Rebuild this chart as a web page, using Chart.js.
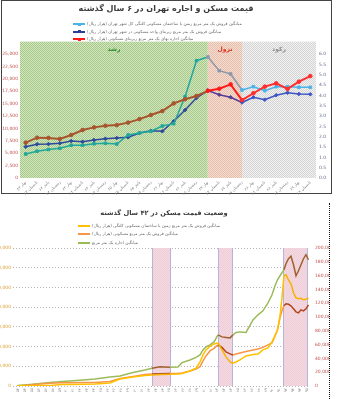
<!DOCTYPE html>
<html lang="fa">
<head>
<meta charset="utf-8">
<script src="https://cdn.jsdelivr.net/npm/chart.js@4.4.1/dist/chart.umd.min.js"></script>
<style>
  body { margin: 0; width: 342px; height: 399px; overflow: hidden; background: #fff; position: relative; font-family: 'DejaVu Sans', sans-serif; }
  canvas { position: absolute; }
  .frame { position: absolute; left: 1px; top: 0; width: 329px; height: 192px; border: 1px solid #444; }
  .edge { position: absolute; left: 329px; top: 203px; width: 0; height: 196px; border-left: 1px dotted #111; }
  .title { position: absolute; left: 0; width: 332px; text-align: center; font-weight: bold; color: #3a3a3a; direction: rtl; white-space: nowrap; }
  .leg { position: absolute; white-space: nowrap; font-size: 4.2px; line-height: 6px; color: #666; direction: rtl; }
  .sw { position: absolute; height: 2px; }
  .mk { position: absolute; width: 3px; height: 3px; }
</style>
</head>
<body>
<div class="frame"></div>
<canvas id="top" width="342" height="195" style="left:0;top:0"></canvas>
<div class="title" style="top:4px;font-size:8px">قیمت مسکن و اجاره تهران در ۶ سال گذشته</div>
<canvas id="bottom" width="350" height="199" style="left:-20px;top:200px"></canvas>
<div class="edge"></div>
<div class="title" style="top:209px;font-size:6.6px;width:328px">وضعیت قیمت مسکن در ۴۲ سال گذشته</div>
<script>
// ---- top chart: last 6 years, seasonal ----
const topLabels = ['بهار ۸۳', 'تابستان ۸۳', 'پاییز ۸۳', 'زمستان ۸۳', 'بهار ۸۴', 'تابستان ۸۴', 'پاییز ۸۴', 'زمستان ۸۴',
  'بهار ۸۵', 'تابستان ۸۵', 'پاییز ۸۵', 'زمستان ۸۵', 'بهار ۸۶', 'تابستان ۸۶', 'پاییز ۸۶', 'زمستان ۸۶',
  'بهار ۸۷', 'تابستان ۸۷', 'پاییز ۸۷', 'زمستان ۸۷', 'بهار ۸۸', 'تابستان ۸۸', 'پاییز ۸۸', 'زمستان ۸۸',
  'بهار ۸۹', 'تابستان ۸۹'];
const landPrice = [4840, 5400, 5750, 5990, 6610, 6610, 6900, 7000, 6850, 8670, 9070, 9420, 10480,
  10950, 16390, 23650, 24400, 21630, 20970, 17740, 18410, 17600, 18410, 18410, 18290, 18290];
const unitPrice = [6310, 6810, 6850, 7000, 7460, 7320, 7660, 7920, 8060, 8210, 9070, 9520, 9420,
  11430, 13710, 16130, 17640, 16790, 16270, 15220, 16270, 15790, 16690, 17200, 16940, 16880];
const rentPrice = [1.71, 1.95, 1.94, 1.89, 2.08, 2.32, 2.45, 2.53, 2.56, 2.68, 2.85, 3.05, 3.24,
  3.61, 3.81, 3.97, 4.22, 4.32, 4.53, 3.77, 4.10, 4.42, 4.58, 4.31, 4.66, 4.93];
const topNames = [
  'میانگین فروش یک متر مربع زمین یا ساختمان مسکونی کلنگی کل شهر تهران (هزار ریال)',
  'میانگین فروش یک متر مربع زیربنای واحد مسکونی در شهر تهران (هزار ریال)',
  'میانگین اجاره بهای یک متر مربع زیربنای مسکونی (هزار ریال)'
];
const periodNames = ['رشد', 'نزول', 'رکود'];
const periodFrom = [-0.5, 16, 19];
const periodTo = [16, 19, 25.5];

// ---- bottom chart: 42 years ----
const years = ['۵۳', '۵۴', '۵۵', '۵۶', '۵۷', '۵۸', '۵۹', '۶۰', '۶۱', '۶۲', '۶۳', '۶۴', '۶۵', '۶۶', '۶۷',
  '۶۸', '۶۹', '۷۰', '۷۱', '۷۲', '۷۳', '۷۴', '۷۵', '۷۶', '۷۷', '۷۸', '۷۹', '۸۰', '۸۱', '۸۲', '۸۳',
  '۸۴', '۸۵', '۸۶', '۸۷', '۸۸', '۸۹', '۹۰', '۹۱', '۹۲', '۹۳', '۹۴', '۹۵'];
const bottomX = [-0.15, 1.70, 3.16, 4.62, 5.49, 6.36, 7.53, 9.42, 11.17, 13.35, 14.81, 16.70, 18.45,
  19.47, 20.64, 22.09, 23.26, 23.84, 25.00, 25.88, 26.46, 26.90, 27.33, 27.92, 28.50, 29.08, 29.67,
  30.25, 30.83, 31.27, 31.70, 32.28, 33.16, 34.18, 34.91, 35.63, 36.36, 36.95, 37.38, 37.75, 38.11,
  38.40, 38.69, 38.98, 39.35, 39.71, 40.08, 40.44, 40.80, 41.17, 41.53, 41.89, 42.26];
const rentLong = [1270, 3810, 6350, 8900, 10170, 11440, 12710, 15250, 17790, 22880, 25420, 34310, 40670,
  44990, 49060, 47530, 48290, 59220, 66090, 72440, 78800, 91500, 99130, 104210, 111840, 129630, 124550,
  123280, 122000, 129630, 135990, 137260, 135990, 167760, 180470, 190640, 210970, 231300, 254140, 269400, 279600,
  287220, 294840, 310100, 322810, 329160, 307560, 279600, 292310, 307560, 322810, 332980, 320270];
const unitLong = [0, 1450, 2900, 3920, 4360, 4650, 4790, 5080, 5080, 6540, 10890, 13800, 16700,
  17430, 17860, 18160, 18450, 18880, 21790, 24690, 28030, 36310, 43570, 50830, 54470, 59550, 55920,
  49380, 46480, 45020, 46480, 47930, 50110, 52290, 53740, 55920, 59550, 62450, 72620, 81330, 98760,
  108930, 116190, 119100, 118370, 116190, 111830, 107480, 106030, 110380, 108930, 111830, 117640];
const landLong = [300, 500, 700, 900, 1450, 2180, 2180, 2470, 2900, 4360, 10170, 13070, 15250,
  15980, 16700, 16990, 17430, 18160, 21790, 25710, 34860, 45020, 52290, 57370, 61000, 62450, 52290,
  42120, 34860, 32970, 34860, 37760, 43570, 45750, 46480, 52290, 55190, 63910, 72620, 81330, 101670,
  127810, 159760, 161220, 153950, 148140, 135070, 127810, 126360, 127080, 124910, 125630, 127810];
const bottomNames = [
  'میانگین فروش یک متر مربع زمین یا ساختمان مسکونی کلنگی (هزار ریال)',
  'میانگین فروش یک متر مربع مسکونی (هزار ریال)',
  'میانگین اجاره یک متر مربع'
];
const slumpFrom = [19.5, 29.1, 38.6];
const slumpTo = [22.2, 31.2, 42.25];

Chart.defaults.font.family = 'DejaVu Sans';

function dots(c1, c2) {
  const p = document.createElement('canvas');
  p.width = 2; p.height = 2;
  const g = p.getContext('2d');
  g.fillStyle = c1; g.fillRect(0, 0, 2, 2);
  g.fillStyle = c2; g.fillRect(0, 0, 1, 1); g.fillRect(1, 1, 1, 1);
  return g.createPattern(p, 'repeat');
}

function legend(names, colors, marks, left, centers) {
  names.forEach((n, i) => {
    const sw = document.createElement('div');
    sw.className = 'sw';
    sw.style.cssText = `left:${left}px;top:${centers[i] - 1}px;width:12px;background:${colors[i]}`;
    document.body.appendChild(sw);
    if (marks) {
      const mk = document.createElement('div');
      mk.className = 'mk';
      mk.style.cssText = `left:${left + 5}px;top:${centers[i] - 1.5}px;background:${colors[i]}`;
      document.body.appendChild(mk);
    }
    const t = document.createElement('div');
    t.className = 'leg';
    t.style.cssText = `left:${left + 14}px;top:${centers[i] - 3}px`;
    t.textContent = n;
    document.body.appendChild(t);
  });
}

// ---------- top ----------
const periodFill = [dots('#d3e6c0', '#a6c98a'), dots('#f7dccf', '#e3bfae'), dots('#f2f2f2', '#d4d4d4')];
const periodText = ['#2e8b2e', '#e0301e', '#8a8a8a'];
const cyanCols = ['#22a89a', '#8c98aa', '#4db4e8'];
const blueCols = ['#2d4a9c', '#5a3c96', '#3e56c4'];
const redCols = ['#a8552e', '#ff1a1a', '#ff2e2e'];
const seg = i => periodTo.findIndex(t => i < t);

const periodsPlugin = {
  id: 'periods',
  beforeDatasetsDraw(chart) {
    const { ctx, chartArea, scales } = chart;
    const top = scales.y.getPixelForValue(27500);
    ctx.save();
    periodFrom.forEach((s, k) => {
      const x0 = scales.x.getPixelForValue(s);
      const x1 = scales.x.getPixelForValue(periodTo[k]);
      ctx.fillStyle = periodFill[k];
      ctx.fillRect(x0, top, x1 - x0, chartArea.bottom - top);
      ctx.fillStyle = periodText[k];
      ctx.font = 'bold 6px DejaVu Sans';
      ctx.textAlign = 'center';
      ctx.fillText(periodNames[k], (x0 + x1) / 2, top + 9);
    });
    ctx.restore();
  }
};

function topSet(label, data, cols, axis, style, width) {
  return {
    label, data, yAxisID: axis,
    borderWidth: width,
    pointStyle: style,
    pointRadius: 1.8,
    pointBorderWidth: 1,
    pointBackgroundColor: c => cols[seg(c.dataIndex)],
    pointBorderColor: c => cols[seg(c.dataIndex)],
    segment: { borderColor: c => cols[seg(c.p0DataIndex)] },
    borderColor: cols[0]
  };
}

new Chart(document.getElementById('top'), {
  type: 'line',
  data: {
    labels: topLabels,
    datasets: [
      topSet(topNames[2], rentPrice, redCols, 'y1', 'circle', 2),
      topSet(topNames[0], landPrice, cyanCols, 'y', 'rect', 1.5),
      topSet(topNames[1], unitPrice, blueCols, 'y', 'rectRot', 1.5)
    ]
  },
  options: {
    responsive: false,
    animation: false,
    layout: { padding: { top: 54, left: 0, right: 0, bottom: 0 } },
    plugins: { legend: { display: false }, tooltip: { enabled: false } },
    scales: {
      x: {
        offset: true,
        grid: { display: false, drawTicks: false },
        border: { display: false },
        ticks: { autoSkip: false, minRotation: 45, maxRotation: 45, font: { size: 4 }, color: '#808080', padding: 2 },
        afterFit: s => { s.height = 17; }
      },
      y: {
        min: 0, max: 25000,
        grid: { display: false, drawTicks: false },
        border: { display: false },
        ticks: { stepSize: 2500, font: { size: 4.5 }, color: '#c0504d', padding: 2, callback: v => v.toLocaleString('en-US') },
        afterFit: s => { s.width = 20; }
      },
      y1: {
        position: 'right',
        min: 0, max: 6,
        grid: { display: false, drawTicks: false },
        border: { display: false },
        ticks: { stepSize: 0.5, font: { size: 4.5 }, color: '#5f6b85', padding: 3, callback: v => v.toFixed(1) },
        afterFit: s => { s.width = 26; }
      }
    }
  },
  plugins: [periodsPlugin]
});

legend(topNames, ['#4db4e8', '#2d3f94', '#ff1a1a'], true, 73, [24.3, 31.7, 39]);

// ---------- bottom ----------
const slumpFill = dots('#f8d6dc', '#e9d2de');
const inSlump = x => slumpFrom.some((s, k) => x >= s && x <= slumpTo[k]);

const slumpPlugin = {
  id: 'slumps',
  beforeDatasetsDraw(chart) {
    const { ctx, chartArea, scales } = chart;
    ctx.save();
    slumpFrom.forEach((s, k) => {
      const x0 = Math.round(scales.x.getPixelForValue(s));
      const x1 = Math.round(scales.x.getPixelForValue(slumpTo[k]));
      ctx.fillStyle = slumpFill;
      ctx.fillRect(x0, chartArea.top, x1 - x0, chartArea.bottom - chartArea.top);
      ctx.strokeStyle = '#b4b4dc';
      ctx.lineWidth = 1;
      ctx.beginPath();
      ctx.moveTo(x0 + 0.5, chartArea.top); ctx.lineTo(x0 + 0.5, chartArea.bottom);
      ctx.moveTo(x1 - 0.5, chartArea.top); ctx.lineTo(x1 - 0.5, chartArea.bottom);
      ctx.stroke();
    });
    ctx.restore();
  }
};

function longSet(label, values, cols, axis) {
  return {
    label,
    data: bottomX.map((x, i) => ({ x, y: values[i] })),
    yAxisID: axis,
    borderWidth: 1.5,
    pointRadius: 0,
    borderColor: cols[0],
    segment: { borderColor: c => inSlump((c.p0.parsed.x + c.p1.parsed.x) / 2) ? cols[1] : cols[0] }
  };
}

new Chart(document.getElementById('bottom'), {
  type: 'line',
  data: {
    datasets: [
      longSet(bottomNames[0], landLong, ['#ffc000', '#f7b200'], 'y1'),
      longSet(bottomNames[1], unitLong, ['#f79646', '#b2441e'], 'y1'),
      longSet(bottomNames[2], rentLong, ['#9bbb59', '#a0602e'], 'y')
    ]
  },
  options: {
    responsive: false,
    animation: false,
    layout: { padding: { top: 48, left: 0, right: 0, bottom: 0 } },
    plugins: { legend: { display: false }, tooltip: { enabled: false } },
    scales: {
      x: {
        type: 'linear',
        min: -0.77, max: 42.48,
        afterBuildTicks: s => { s.ticks = years.map((_, i) => ({ value: i })); },
        grid: { display: false, drawTicks: false },
        border: { display: false },
        ticks: { autoSkip: false, minRotation: 90, maxRotation: 90, font: { size: 4 }, color: '#8c8c8c', padding: 2, callback: v => years[v] },
        afterFit: s => { s.height = 13; }
      },
      y: {
        min: 0, max: 350000,
        grid: { color: '#b4b4b4', drawTicks: false },
        border: { display: false, dash: [1, 2] },
        ticks: { stepSize: 50000, font: { size: 4.5 }, color: '#dca032', padding: 2, callback: v => v.toLocaleString('en-US') },
        afterFit: s => { s.width = 33; }
      },
      y1: {
        position: 'right',
        min: 0, max: 200000,
        grid: { display: false, drawTicks: false },
        border: { display: false },
        ticks: { stepSize: 20000, font: { size: 4.5 }, color: '#c0504d', padding: 5, callback: v => v.toLocaleString('en-US') },
        afterFit: s => { s.width = 20; }
      }
    }
  },
  plugins: [slumpPlugin]
});

legend(bottomNames, ['#ffc000', '#f79646', '#9bbb59'], false, 78, [225.7, 234, 242.7]);
</script>
</body>
</html>
